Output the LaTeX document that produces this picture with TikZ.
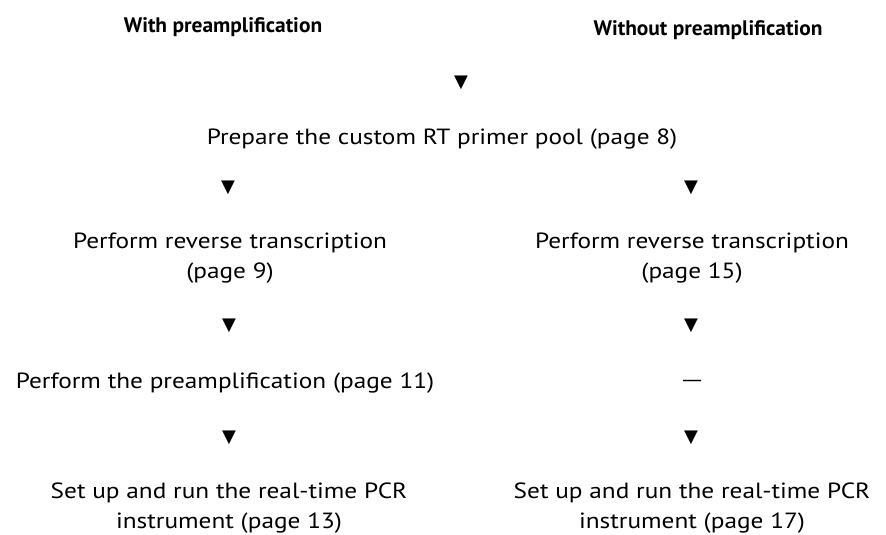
\documentclass[tikz,border=0pt]{standalone}
\usepackage{fontspec}
\setmainfont[FakeStretch=1.15]{PT Sans}
\newfontfamily\headfont[FakeStretch=1.02]{PT Sans}
\newfontfamily\trifont{DejaVu Sans}
\usepackage{tikz}
\usetikzlibrary{positioning}

\begin{document}
\begin{tikzpicture}[x=1pt,y=-1pt,
  head/.style={font=\headfont\bfseries\fontsize{21}{25}\selectfont},
  txt/.style={font=\fontsize{22}{30}\selectfont,align=center},
  tri/.style={font=\trifont\fontsize{18}{18}\selectfont,inner sep=0pt}]
\useasboundingbox (0,0) rectangle (886,535);

\node[head] (headl) at (223,27) {With preamplification};
\node[head] (headr) at (708,30) {Without preamplification};

\node[tri] (t0) at (461,83) {▼};
\node[txt] (prep) at (442,139) {Prepare the custom RT primer pool (page 8)};

\node[tri] (tl1) at (228,188) {▼};
\node[tri] (tr1) at (691,188) {▼};

\node[txt] (rtl) at (230,258) {Perform reverse transcription\\(page 9)};
\node[txt] (rtr) at (692,258) {Perform reverse transcription\\(page 15)};

\node[tri] (tl2) at (229,326) {▼};
\node[tri] (tr2) at (691,326) {▼};

\node[txt] (pre) at (225,383) {Perform the preamplification (page 11)};
\node[tri,font=\trifont\fontsize{20}{20}\selectfont] (none) at (692,383) {—};

\node[tri] (tl3) at (229,438) {▼};
\node[tri] (tr3) at (691,438) {▼};

\node[txt] (runl) at (229,508) {Set up and run the real-time PCR\\instrument (page 13)};
\node[txt] (runr) at (692,508) {Set up and run the real-time PCR\\instrument (page 17)};

\end{tikzpicture}
\end{document}
